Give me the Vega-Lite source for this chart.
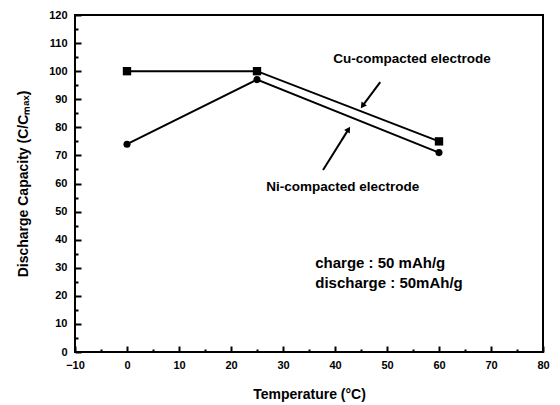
{
  "$schema": "https://vega.github.io/schema/vega-lite/v6.json",
  "autosize": {"type": "none"},
  "padding": {"left": 75, "top": 15, "right": 17, "bottom": 53},
  "width": 468,
  "height": 337,
  "background": "white",
  "config": {
    "view": {"stroke": "black", "strokeWidth": 2},
    "font": "Liberation Sans"
  },
  "datasets": {
    "series": [
      {"temp": 0, "cap": 100, "series": "Cu-compacted electrode"},
      {"temp": 25, "cap": 100, "series": "Cu-compacted electrode"},
      {"temp": 60, "cap": 75, "series": "Cu-compacted electrode"},
      {"temp": 0, "cap": 74, "series": "Ni-compacted electrode"},
      {"temp": 25, "cap": 97, "series": "Ni-compacted electrode"},
      {"temp": 60, "cap": 71, "series": "Ni-compacted electrode"}
    ],
    "arrows": [
      {"arrow": "Cu", "temp": 48.7, "cap": 96.1, "temp2": 45.4, "cap2": 87.9},
      {"arrow": "Ni", "temp": 37.7, "cap": 64.8, "temp2": 42.5, "cap2": 79.0}
    ],
    "heads": [
      {"arrow": "Cu", "temp": 45.4, "cap": 87.9},
      {"arrow": "Ni", "temp": 42.5, "cap": 79.0}
    ],
    "labels": [
      {"temp": 54.8, "cap": 104.5, "label": "Cu-compacted electrode", "kind": "cu"},
      {"temp": 41.5, "cap": 58.7, "label": "Ni-compacted electrode", "kind": "ni"},
      {"temp": 36.2, "cap": 31.7, "label": "charge : 50 mAh/g", "kind": "cond"},
      {"temp": 36.2, "cap": 24.6, "label": "discharge : 50mAh/g", "kind": "cond"}
    ]
  },
  "encoding": {
    "x": {
      "field": "temp", "type": "quantitative",
      "scale": {"domain": [-10, 80], "nice": false},
      "axis": {
        "grid": false,
        "domain": false,
        "offset": -6,
        "values": [-10, -5, 0, 5, 10, 15, 20, 25, 30, 35, 40, 45, 50, 55, 60, 65, 70, 75, 80],
        "labelExpr": "datum.value % 10 === 0 ? datum.label : ''",
        "labelOverlap": false, "labelFlush": false,
        "ticks": true, "tickColor": "black", "tickWidth": 2,
        "tickSize": 6,
        "tickDash": {"condition": {"test": "datum.value % 10 === 0", "value": []}, "value": [0, 3, 3, 20]},
        "labelPadding": 7,
        "labelFont": "Liberation Sans", "labelFontWeight": "bold", "labelFontSize": 11, "labelColor": "black",
        "title": "Temperature (°C)",
        "titleFont": "Liberation Sans", "titleFontWeight": "bold", "titleFontSize": 14, "titleColor": "black",
        "titlePadding": 17
      }
    },
    "y": {
      "field": "cap", "type": "quantitative",
      "scale": {"domain": [0, 120], "nice": false},
      "axis": {
        "grid": false,
        "domain": false,
        "offset": -6,
        "values": [0, 5, 10, 15, 20, 25, 30, 35, 40, 45, 50, 55, 60, 65, 70, 75, 80, 85, 90, 95, 100, 105, 110, 115, 120],
        "labelExpr": "datum.value % 10 === 0 ? datum.label : ''",
        "labelOverlap": false, "labelFlush": false,
        "ticks": true, "tickColor": "black", "tickWidth": 2,
        "tickSize": 6,
        "tickDash": {"condition": {"test": "datum.value % 10 === 0", "value": []}, "value": [0, 3, 3, 20]},
        "labelPadding": 8,
        "labelFont": "Liberation Sans", "labelFontWeight": "bold", "labelFontSize": 11, "labelColor": "black",
        "title": "Discharge Capacity (C/Cₘₐₓ)",
        "titleFont": "Liberation Sans", "titleFontWeight": "bold", "titleFontSize": 14, "titleColor": "black",
        "titlePadding": 18
      }
    }
  },
  "layer": [
    {
      "data": {"name": "series"},
      "mark": {"type": "line", "color": "black", "strokeWidth": 2},
      "encoding": {"detail": {"field": "series"}}
    },
    {
      "data": {"name": "series"},
      "mark": {"type": "point", "filled": true, "color": "black", "opacity": 1},
      "encoding": {
        "shape": {
          "field": "series", "type": "nominal",
          "scale": {"domain": ["Cu-compacted electrode", "Ni-compacted electrode"], "range": ["square", "circle"]},
          "legend": null
        },
        "size": {
          "field": "series", "type": "nominal",
          "scale": {"domain": ["Cu-compacted electrode", "Ni-compacted electrode"], "range": [70, 50]},
          "legend": null
        }
      }
    },
    {
      "data": {"name": "arrows"},
      "mark": {"type": "rule", "color": "black", "strokeWidth": 2},
      "encoding": {
        "x2": {"field": "temp2"},
        "y2": {"field": "cap2"}
      }
    },
    {
      "data": {"name": "heads"},
      "transform": [{"filter": "datum.arrow === 'Cu'"}],
      "mark": {"type": "point", "shape": "triangle", "filled": true, "color": "black", "opacity": 1, "size": 45, "angle": 216},
      "encoding": {}
    },
    {
      "data": {"name": "heads"},
      "transform": [{"filter": "datum.arrow === 'Ni'"}],
      "mark": {"type": "point", "shape": "triangle", "filled": true, "color": "black", "opacity": 1, "size": 45, "angle": 32},
      "encoding": {}
    },
    {
      "data": {"name": "labels"},
      "transform": [{"filter": "datum.kind !== 'cond'"}],
      "mark": {"type": "text", "fontWeight": "bold", "fontSize": 13.5, "font": "Liberation Sans", "color": "black", "align": "center", "baseline": "middle"},
      "encoding": {"text": {"field": "label"}}
    },
    {
      "data": {"name": "labels"},
      "transform": [{"filter": "datum.kind === 'cond'"}],
      "mark": {"type": "text", "fontSize": 15, "fontWeight": "bold", "font": "Liberation Sans", "color": "black", "align": "left", "baseline": "middle"},
      "encoding": {"text": {"field": "label"}}
    }
  ]
}
